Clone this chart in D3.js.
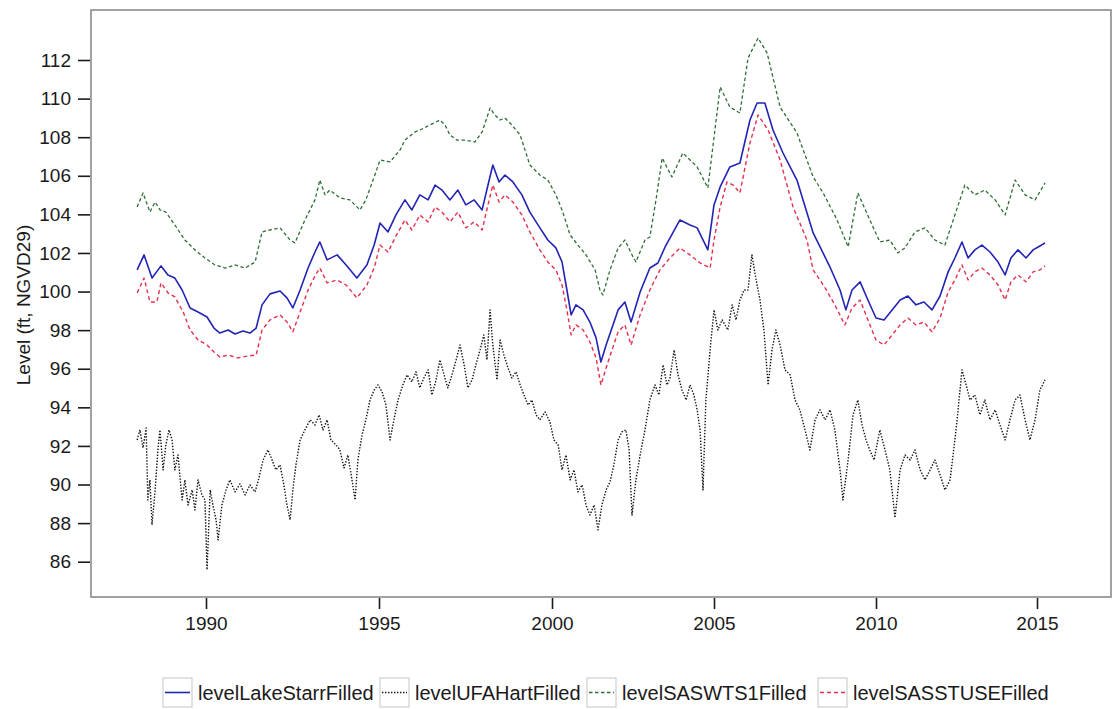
<!DOCTYPE html>
<html>
<head>
<meta charset="utf-8">
<script src="https://cdn.jsdelivr.net/npm/d3@7"></script>
<style>
  body { margin: 0; background: #fff; }
  svg { display: block; }
  text { font-family: "Liberation Sans", Arial, sans-serif; fill: #1a1a1a; }
</style>
</head>
<body>
<svg id="chart" width="1112" height="709"></svg>
<script>
// Tick values
const yearTicks = [1990, 1995, 2000, 2005, 2010, 2015];
const levelTicks = [86, 88, 90, 92, 94, 96, 98, 100, 102, 104, 106, 108, 110, 112];

// Series names
const seriesNames = ["levelLakeStarrFilled", "levelUFAHartFilled", "levelSASWTS1Filled", "levelSASSTUSEFilled"];

// Water levels [decimal year, ft NGVD29]
const lakeStarr = [
  [1988.01,101.12],[1988.21,101.90],[1988.44,100.70],[1988.70,101.33],[1988.90,100.86],[1989.10,100.70],
  [1989.31,100.08],[1989.54,99.15],[1989.77,98.94],[1990.03,98.68],[1990.23,98.11],[1990.40,97.85],
  [1990.64,98.01],[1990.84,97.80],[1991.07,97.96],[1991.27,97.85],[1991.45,98.11],[1991.62,99.31],
  [1991.85,99.88],[1992.14,100.03],[1992.34,99.67],[1992.51,99.15],[1992.72,100.08],[1992.95,101.22],
  [1993.15,102.05],[1993.29,102.57],[1993.50,101.64],[1993.79,101.90],[1994.05,101.38],[1994.36,100.70],
  [1994.65,101.38],[1994.86,102.41],[1995.03,103.55],[1995.26,103.09],[1995.49,103.97],[1995.75,104.75],
  [1995.95,104.23],[1996.18,105.01],[1996.42,104.75],[1996.62,105.52],[1996.82,105.26],[1997.05,104.75],
  [1997.28,105.26],[1997.51,104.49],[1997.75,104.75],[1997.98,104.23],[1998.15,105.52],[1998.29,106.56],
  [1998.47,105.68],[1998.64,106.04],[1998.87,105.68],[1999.13,105.01],[1999.36,104.12],[1999.65,103.30],
  [1999.88,102.67],[2000.12,102.26],[2000.31,101.53],[2000.46,100.08],[2000.59,98.79],[2000.74,99.31],
  [2000.96,99.05],[2001.17,98.42],[2001.36,97.60],[2001.51,96.35],[2001.67,97.23],[2001.85,98.11],
  [2002.04,99.05],[2002.25,99.46],[2002.44,98.42],[2002.72,99.98],[2003.02,101.22],[2003.27,101.48],
  [2003.49,102.31],[2003.95,103.71],[2004.26,103.45],[2004.48,103.30],[2004.81,102.16],[2005.00,104.49],
  [2005.19,105.42],[2005.49,106.46],[2005.80,106.66],[2006.11,108.89],[2006.33,109.77],[2006.57,109.77],
  [2006.82,108.37],[2007.13,107.18],[2007.56,105.78],[2008.06,103.04],[2008.58,101.27],[2008.89,100.08],
  [2009.07,99.05],[2009.26,100.08],[2009.51,100.50],[2009.75,99.56],[2010.00,98.63],[2010.25,98.53],
  [2010.50,99.05],[2010.75,99.56],[2010.99,99.77],[2011.24,99.31],[2011.49,99.46],[2011.74,99.05],
  [2011.99,99.77],[2012.24,101.02],[2012.45,101.74],[2012.67,102.57],[2012.86,101.74],[2013.07,102.16],
  [2013.29,102.41],[2013.54,102.05],[2013.79,101.53],[2014.01,100.86],[2014.19,101.74],[2014.41,102.16],
  [2014.66,101.74],[2014.88,102.16],[2015.09,102.36],[2015.25,102.52]
];

const ufaHart = [
  [1988.01,92.31],[1988.09,92.83],[1988.18,91.90],[1988.27,92.93],[1988.32,89.20],[1988.38,90.24],
  [1988.44,87.91],[1988.53,89.72],[1988.61,91.79],[1988.67,92.83],[1988.76,90.76],[1988.84,92.05],
  [1988.93,92.83],[1989.02,92.31],[1989.10,90.76],[1989.19,91.53],[1989.31,89.20],[1989.39,90.24],
  [1989.48,88.94],[1989.60,89.72],[1989.68,88.68],[1989.77,90.24],[1989.88,89.46],[1989.97,89.20],
  [1990.03,85.58],[1990.12,89.72],[1990.20,88.94],[1990.29,88.17],[1990.35,87.13],[1990.46,88.94],
  [1990.58,89.72],[1990.69,90.24],[1990.84,89.62],[1990.98,90.03],[1991.13,89.46],[1991.27,89.98],
  [1991.42,89.62],[1991.53,90.34],[1991.65,91.27],[1991.79,91.79],[1991.91,91.27],[1992.02,90.76],
  [1992.14,91.02],[1992.25,89.98],[1992.34,88.94],[1992.43,88.17],[1992.51,89.72],[1992.60,91.02],
  [1992.72,92.31],[1992.86,92.83],[1993.01,93.35],[1993.15,93.09],[1993.27,93.61],[1993.38,92.83],
  [1993.50,93.35],[1993.61,92.31],[1993.76,92.05],[1993.87,91.79],[1993.99,90.86],[1994.10,91.53],
  [1994.22,90.24],[1994.31,89.20],[1994.39,91.27],[1994.51,92.57],[1994.62,93.35],[1994.74,94.38],
  [1994.86,94.90],[1994.97,95.16],[1995.09,94.80],[1995.20,94.12],[1995.32,92.31],[1995.43,93.35],
  [1995.55,94.38],[1995.69,95.16],[1995.81,95.68],[1995.95,95.32],[1996.07,95.84],[1996.18,95.01],
  [1996.30,95.53],[1996.42,95.94],[1996.53,94.64],[1996.65,95.42],[1996.76,96.46],[1996.88,95.68],
  [1996.99,95.01],[1997.11,95.68],[1997.23,96.46],[1997.34,97.23],[1997.46,96.20],[1997.57,95.01],
  [1997.69,95.42],[1997.80,96.20],[1997.92,96.97],[1998.03,97.75],[1998.12,96.46],[1998.21,99.05],
  [1998.29,97.23],[1998.41,95.42],[1998.50,97.49],[1998.61,96.71],[1998.73,96.04],[1998.84,95.52],
  [1998.96,95.84],[1999.08,95.16],[1999.19,94.64],[1999.31,94.12],[1999.42,94.38],[1999.54,93.61],
  [1999.65,93.35],[1999.80,93.76],[1999.94,93.24],[2000.06,92.31],[2000.19,92.05],[2000.31,90.76],
  [2000.43,91.53],[2000.56,90.24],[2000.68,90.76],[2000.80,89.62],[2000.93,89.98],[2001.05,88.94],
  [2001.17,88.42],[2001.30,88.94],[2001.42,87.65],[2001.54,88.94],[2001.67,89.72],[2001.79,90.13],
  [2001.91,91.02],[2002.04,92.31],[2002.16,92.73],[2002.28,92.83],[2002.38,91.79],[2002.47,88.42],
  [2002.59,90.24],[2002.72,91.53],[2002.87,92.83],[2003.02,94.38],[2003.18,95.16],[2003.30,94.64],
  [2003.43,96.20],[2003.55,95.16],[2003.64,95.52],[2003.77,96.97],[2003.89,95.68],[2004.01,94.90],
  [2004.14,94.38],[2004.26,95.16],[2004.38,94.64],[2004.48,93.87],[2004.57,92.83],[2004.66,89.72],
  [2004.75,94.38],[2004.88,96.97],[2005.00,99.05],[2005.12,98.01],[2005.25,98.53],[2005.43,98.01],
  [2005.56,99.31],[2005.68,98.53],[2005.80,99.56],[2005.93,100.08],[2006.05,100.08],[2006.17,101.90],
  [2006.30,100.60],[2006.42,99.56],[2006.54,98.01],[2006.67,95.16],[2006.79,96.97],[2006.91,98.01],
  [2007.04,97.23],[2007.19,95.94],[2007.35,95.68],[2007.50,94.38],[2007.65,93.87],[2007.81,92.83],
  [2007.96,91.79],[2008.12,93.35],[2008.27,93.87],[2008.43,93.35],[2008.58,93.87],[2008.73,92.83],
  [2008.89,90.76],[2008.98,89.20],[2009.14,91.27],[2009.29,93.61],[2009.44,94.38],[2009.57,93.09],
  [2009.69,92.31],[2009.81,91.79],[2009.94,91.27],[2010.12,92.83],[2010.28,91.79],[2010.43,90.76],
  [2010.59,88.27],[2010.75,90.76],[2010.90,91.53],[2011.06,91.27],[2011.21,91.79],[2011.37,90.76],
  [2011.52,90.24],[2011.68,90.76],[2011.83,91.27],[2011.99,90.50],[2012.14,89.72],[2012.30,90.24],
  [2012.45,92.31],[2012.55,93.87],[2012.67,95.94],[2012.80,95.16],[2012.92,94.38],[2013.07,94.64],
  [2013.23,93.61],[2013.38,94.38],[2013.54,93.35],[2013.70,93.87],[2013.85,93.09],[2014.01,92.31],
  [2014.16,93.35],[2014.32,94.38],[2014.47,94.64],[2014.63,93.35],[2014.78,92.31],[2014.94,93.35],
  [2015.09,94.90],[2015.25,95.42]
];

const sasWts1 = [
  [1988.01,104.38],[1988.18,105.11],[1988.38,104.12],[1988.53,104.64],[1988.67,104.23],[1988.84,104.12],
  [1989.10,103.45],[1989.39,102.67],[1989.68,102.16],[1989.97,101.74],[1990.26,101.38],[1990.55,101.22],
  [1990.84,101.38],[1991.13,101.22],[1991.42,101.53],[1991.62,103.09],[1991.85,103.19],[1992.14,103.30],
  [1992.43,102.67],[1992.57,102.52],[1992.86,103.71],[1993.15,104.75],[1993.29,105.78],[1993.44,105.01],
  [1993.58,105.26],[1993.87,104.85],[1994.16,104.75],[1994.45,104.23],[1994.62,104.75],[1994.88,106.04],
  [1995.03,106.82],[1995.32,106.72],[1995.61,107.34],[1995.75,107.85],[1996.04,108.27],[1996.18,108.37],
  [1996.47,108.63],[1996.76,108.89],[1996.91,108.63],[1997.05,108.11],[1997.25,107.85],[1997.49,107.85],
  [1997.77,107.75],[1997.98,108.27],[1998.21,109.51],[1998.35,109.15],[1998.50,108.89],[1998.64,108.99],
  [1998.84,108.63],[1999.08,108.11],[1999.36,106.56],[1999.65,106.04],[1999.88,105.78],[2000.12,105.01],
  [2000.31,104.23],[2000.56,102.93],[2000.80,102.41],[2001.05,101.90],[2001.33,101.12],[2001.48,100.08],
  [2001.57,99.82],[2001.79,101.12],[2002.04,102.26],[2002.25,102.67],[2002.47,101.90],[2002.59,101.53],
  [2002.87,102.67],[2003.02,102.83],[2003.21,104.75],[2003.40,106.92],[2003.70,105.94],[2004.04,107.18],
  [2004.48,106.46],[2004.81,105.37],[2005.19,110.60],[2005.49,109.56],[2005.80,109.25],[2006.05,112.10],
  [2006.36,113.14],[2006.64,112.36],[2007.04,109.56],[2007.56,108.22],[2008.06,105.94],[2008.37,105.11],
  [2008.80,103.71],[2009.14,102.31],[2009.44,105.11],[2009.81,103.71],[2010.12,102.57],[2010.43,102.67],
  [2010.68,102.00],[2010.90,102.26],[2011.21,103.09],[2011.52,103.30],[2011.83,102.67],[2012.14,102.41],
  [2012.45,103.97],[2012.76,105.52],[2013.07,105.01],[2013.38,105.26],[2013.70,104.75],[2014.01,103.97],
  [2014.32,105.78],[2014.63,105.01],[2014.94,104.75],[2015.25,105.63]
];

const sasStUse = [
  [1988.01,99.93],[1988.21,100.70],[1988.38,99.46],[1988.58,99.46],[1988.70,100.45],[1988.90,99.93],
  [1989.10,99.72],[1989.34,98.94],[1989.54,98.01],[1989.77,97.49],[1990.03,97.23],[1990.23,96.87],
  [1990.40,96.61],[1990.64,96.71],[1990.92,96.56],[1991.21,96.66],[1991.45,96.71],[1991.62,98.01],
  [1991.85,98.53],[1992.14,98.79],[1992.34,98.42],[1992.51,97.91],[1992.72,98.94],[1992.95,100.08],
  [1993.15,100.81],[1993.29,101.22],[1993.50,100.45],[1993.79,100.60],[1994.05,100.34],[1994.36,99.67],
  [1994.65,100.34],[1994.86,101.22],[1995.03,102.41],[1995.26,102.05],[1995.49,102.88],[1995.75,103.71],
  [1995.95,103.19],[1996.18,103.97],[1996.42,103.61],[1996.62,104.38],[1996.82,104.12],[1997.05,103.61],
  [1997.28,104.12],[1997.51,103.30],[1997.75,103.61],[1997.98,103.19],[1998.15,104.49],[1998.29,105.52],
  [1998.47,104.64],[1998.64,105.01],[1998.87,104.64],[1999.13,103.97],[1999.36,103.09],[1999.65,102.16],
  [1999.88,101.53],[2000.12,101.12],[2000.31,100.34],[2000.46,99.05],[2000.59,97.75],[2000.74,98.27],
  [2000.96,98.01],[2001.17,97.39],[2001.36,96.56],[2001.51,95.16],[2001.67,96.04],[2001.85,96.97],
  [2002.04,97.91],[2002.25,98.27],[2002.44,97.23],[2002.72,98.79],[2003.02,100.08],[2003.33,101.12],
  [2003.64,101.74],[2003.95,102.26],[2004.26,101.90],[2004.57,101.48],[2004.88,101.22],[2005.00,102.67],
  [2005.19,104.38],[2005.40,105.68],[2005.59,105.52],[2005.80,105.11],[2006.11,107.70],[2006.36,109.15],
  [2006.67,108.37],[2007.04,106.82],[2007.44,104.38],[2007.87,102.67],[2008.06,101.12],[2008.43,100.19],
  [2008.73,99.31],[2009.04,98.27],[2009.26,99.15],[2009.51,99.56],[2009.75,98.53],[2010.00,97.49],
  [2010.25,97.23],[2010.50,97.75],[2010.75,98.27],[2010.99,98.63],[2011.24,98.27],[2011.49,98.42],
  [2011.74,97.91],[2011.99,98.63],[2012.24,99.98],[2012.45,100.60],[2012.67,101.38],[2012.86,100.60],
  [2013.07,101.02],[2013.29,101.22],[2013.54,100.86],[2013.79,100.34],[2014.01,99.56],[2014.19,100.50],
  [2014.41,100.86],[2014.66,100.50],[2014.88,101.02],[2015.09,101.12],[2015.25,101.33]
];

const svg = d3.select("#chart");

const frame = { left: 91, top: 10, right: 1111, bottom: 597 };

// Time axis: tick spacing differs between the early and late part of the record
const x = d3.scaleLinear()
  .domain(yearTicks)
  .range([206, 379, 552, 714, 876, 1037]);

const y = d3.scaleLinear()
  .domain([86, 112])
  .range([561.7, 60]);

const seriesData = [lakeStarr, ufaHart, sasWts1, sasStUse];
const styles = [
  { color: "#2323b4", width: 1.6, dash: null },
  { color: "#111111", width: 1.4, dash: "1.4,1.6" },
  { color: "#2f6f36", width: 1.3, dash: "3.5,2.5" },
  { color: "#e4304e", width: 1.4, dash: "4,3" }
];

// Plot frame
svg.append("rect")
  .attr("x", frame.left).attr("y", frame.top)
  .attr("width", frame.right - frame.left).attr("height", frame.bottom - frame.top)
  .attr("fill", "none").attr("stroke", "#8a8a8a").attr("stroke-width", 1.6);

// Axes
const yAxis = d3.axisLeft(y).tickValues(levelTicks).tickSize(12).tickPadding(7).tickFormat(d3.format("d"));
const gy = svg.append("g").attr("transform", `translate(${frame.left - 1},0)`).call(yAxis);
gy.select(".domain").remove();

const xAxis = d3.axisBottom(x).tickValues(yearTicks).tickSize(11).tickPadding(8).tickFormat(d3.format("d"));
const gx = svg.append("g").attr("transform", `translate(0,${frame.bottom + 1})`).call(xAxis);
gx.select(".domain").remove();

[gx, gy].forEach(g => {
  g.selectAll(".tick line").attr("stroke", "#1a1a1a").attr("stroke-width", 1.6);
  g.selectAll(".tick text").attr("font-size", 19).attr("fill", "#1a1a1a")
    .attr("font-family", "'Liberation Sans', Arial, sans-serif");
});

// Axis title
svg.append("text")
  .attr("transform", "translate(30,305) rotate(-90)")
  .attr("text-anchor", "middle")
  .attr("font-size", 19)
  .text("Level (ft, NGVD29)");

// Series lines
const line = d3.line().x(d => x(d[0])).y(d => y(d[1]));
const drawOrder = [1, 2, 3, 0];
drawOrder.forEach(i => {
  svg.append("path")
    .datum(seriesData[i])
    .attr("d", line)
    .attr("fill", "none")
    .attr("stroke", styles[i].color)
    .attr("stroke-width", styles[i].width)
    .attr("stroke-dasharray", styles[i].dash)
    .attr("stroke-linejoin", "round");
});

// Legend
const legendX = [163, 380, 587, 818];
const legend = svg.append("g");
seriesNames.forEach((name, i) => {
  const g = legend.append("g").attr("transform", `translate(${legendX[i]},678)`);
  g.append("rect").attr("x", 0).attr("y", 0).attr("width", 29).attr("height", 29)
    .attr("fill", "#fff").attr("stroke", "#cfcfcf").attr("stroke-width", 1.2);
  g.append("line").attr("x1", 2).attr("x2", 27).attr("y1", 14.5).attr("y2", 14.5)
    .attr("stroke", styles[i].color).attr("stroke-width", styles[i].width)
    .attr("stroke-dasharray", styles[i].dash);
  g.append("text").attr("x", 35).attr("y", 21.5).attr("font-size", 20).text(name);
});
</script>
</body>
</html>
